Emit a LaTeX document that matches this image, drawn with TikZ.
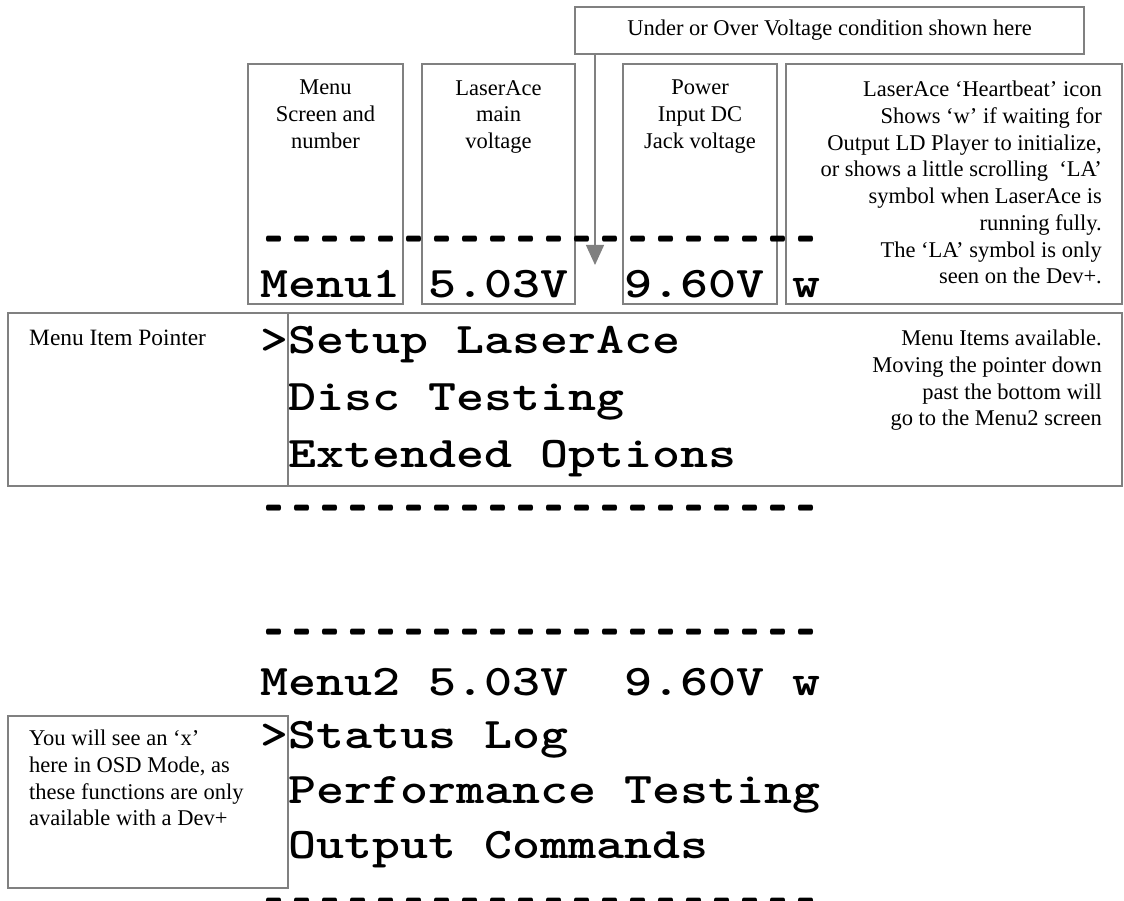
\documentclass[tikz,border=0pt]{standalone}
\usepackage{fontspec}
\setmainfont{Liberation Serif}
\usetikzlibrary{arrows.meta}
\newcommand\onedash{\makebox[0.525em]{\scalebox{0.68}[1.6]{-}}}
\ExplSyntaxOn
\newcommand\dashrow{\prg_replicate:nn{20}{\onedash}}
\ExplSyntaxOff
\newcommand\lcdsq[1]{\scalebox{1}[0.82]{#1}}
\definecolor{boxgray}{RGB}{128,128,128}
\tikzset{
  boxline/.style={draw=boxgray, line width=1.3pt},
  panel/.style={boxline, anchor=north west, inner sep=0pt, outer sep=0pt},
  serif/.style={font=\fontsize{22.5}{26.7}\selectfont, inner sep=0pt},
  lcd/.style={font=\ttfamily\bfseries\fontsize{53.33}{60}\selectfont, anchor=base west, inner sep=0pt},
  pointer/.style={boxline, -{Triangle[width=18pt,length=20pt]}}
}
\begin{document}
\begin{tikzpicture}[x=1pt,y=-1pt]
\useasboundingbox (0,0) rectangle (1124,901);
% boxes
\node[panel, serif, minimum width=509pt, minimum height=47pt] (ov) at (575,7) {Under or Over Voltage condition shown here};
\node[panel, minimum width=155pt, minimum height=240pt] (mbox) at (248,64) {};
\node[panel, minimum width=153pt, minimum height=240pt] (lbox) at (422,64) {};
\node[panel, minimum width=154pt, minimum height=240pt] (pbox) at (623,64) {};
\node[panel, minimum width=336pt, minimum height=240pt] (hbox) at (786,64) {};
\node[panel, minimum width=280pt, minimum height=173pt] (ptrbox) at (8,313) {};
\node[panel, minimum width=834pt, minimum height=173pt] (itembox) at (288,313) {};
\node[panel, minimum width=280pt, minimum height=172pt] (osdbox) at (8,716) {};
% labels
\node[serif, align=center, anchor=north] (mtext) at ([yshift=-16pt]mbox.north) {Menu\\Screen and\\number};
\node[serif, align=center, anchor=north] (ltext) at ([yshift=-16pt]lbox.north) {LaserAce\\main\\voltage};
\node[serif, align=center, anchor=north] (ptext) at ([yshift=-16pt]pbox.north) {Power\\Input DC\\Jack voltage};
\node[serif, align=right, anchor=north east] (htext) at (1102,81) {LaserAce ‘Heartbeat’ icon\\Shows ‘w’ if waiting for\\Output LD Player to initialize,\\or shows a little scrolling~ ‘LA’\\symbol when LaserAce is\\running fully.\\The ‘LA’ symbol is only\\seen on the Dev+.};
\node[serif, anchor=base west, font=\fontsize{23.4}{26.7}\selectfont] (ptrtext) at (29,345) {Menu Item Pointer};
\node[serif, align=right, anchor=north east] (itemtext) at (1102,330) {Menu Items available.\\Moving the pointer down\\past the bottom will\\go to the Menu2 screen};
\node[serif, align=left, anchor=north west] (osdtext) at (29,730) {You will see an ‘x’\\here in OSD Mode, as\\these functions are only\\available with a Dev+};
% arrow
\coordinate (tip) at (595,265);
\draw[pointer] (ov.south -| tip) -- (tip);
% display text
\node[lcd] (d1) at (260,261) {\lcdsq{\dashrow}};
\node[lcd] (r1) at (260,298) {\lcdsq{Menu1 5.03V~~9.60V w}};
\node[lcd] (r2) at (260,353) {\lcdsq{>Setup LaserAce}};
\node[lcd] (r3) at (288,410) {\lcdsq{Disc Testing}};
\node[lcd] (r4) at (288,467) {\lcdsq{Extended Options}};
\node[lcd] (d2) at (260,529) {\lcdsq{\dashrow}};
\node[lcd] (d3) at (260,653) {\lcdsq{\dashrow}};
\node[lcd] (r5) at (260,695) {\lcdsq{Menu2 5.03V~~9.60V w}};
\node[lcd] (r6) at (260,748) {\lcdsq{>Status Log}};
\node[lcd] (r7) at (288,803) {\lcdsq{Performance Testing}};
\node[lcd] (r8) at (288,858) {\lcdsq{Output Commands}};
\node[lcd] (d4) at (260,922) {\lcdsq{\dashrow}};
\end{tikzpicture}
\end{document}
